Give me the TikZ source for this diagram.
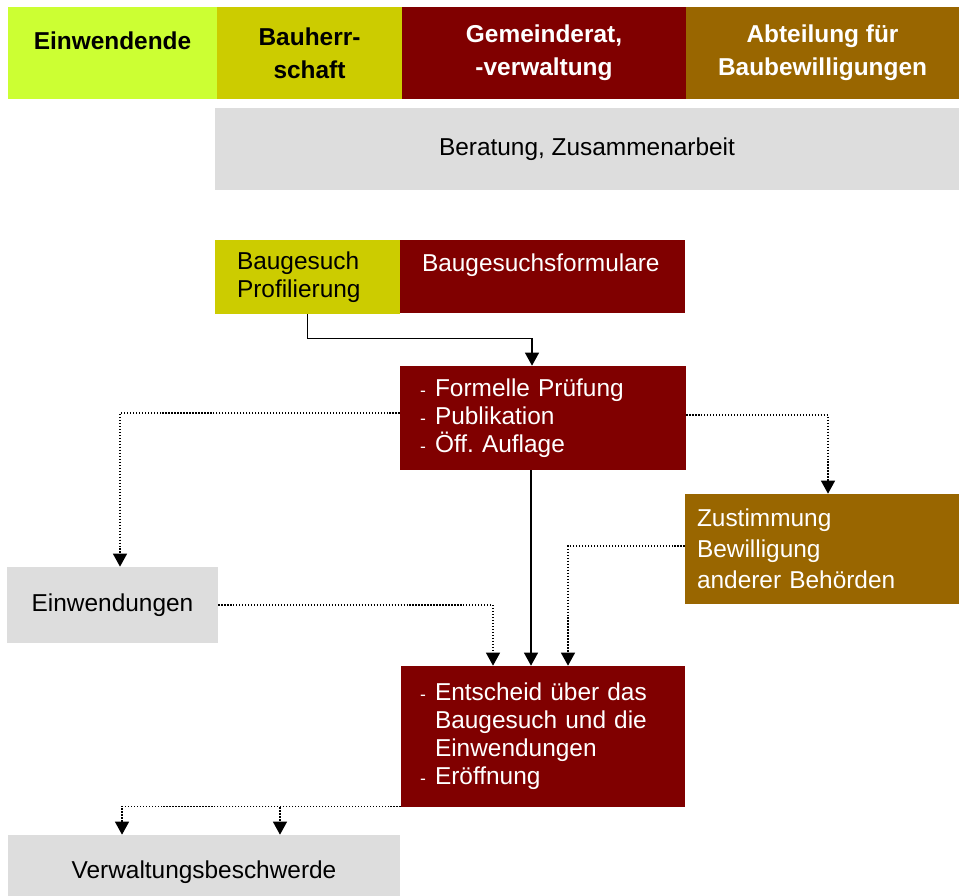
\documentclass[tikz,border=0pt]{standalone}
\usepackage{fontspec}
\setmainfont{Liberation Sans}
\usetikzlibrary{arrows.meta,positioning,calc}

\definecolor{einwgreen}{HTML}{CCFF33}
\definecolor{bauolive}{HTML}{CCCC00}
\definecolor{gemred}{HTML}{800000}
\definecolor{abtbrown}{HTML}{996600}
\definecolor{lightgrey}{HTML}{DDDDDD}

% small dash in front of list lines
\newcommand{\strich}{\makebox[0.3cm][l]{\fontsize{10}{12}\selectfont -}}
\newcommand{\einzug}{\hspace*{0.3cm}}

\begin{document}
\begin{tikzpicture}[
    x=0.02cm, y=-0.02cm,
    every node/.style={font=\fontsize{13.9}{15.9}\selectfont},
    head/.style={rectangle, minimum height=1.84cm, align=center,
                 font=\fontsize{13.9}{18.7}\selectfont\bfseries},
    box/.style={rectangle, align=left, inner ysep=0pt},
    arrow/.style={-{Triangle[width=0.28cm,length=0.26cm]}, line width=0.7pt},
    dotarrow/.style={arrow, densely dotted}
]
\clip (0,0) rectangle (959,895);

% Header
\node[head, fill=einwgreen, minimum width=4.18cm, text depth=0.5cm] (h1)
    at (112.5,53) {Einwendende};
\node[head, fill=bauolive, minimum width=3.7cm] (h2) at (309.5,53)
    {Bauherr-\\schaft};
\node[head, fill=gemred, text=white, minimum width=5.68cm] (h3) at (544,53)
    {Gemeinderat,\\-verwaltung};
\node[head, fill=abtbrown, text=white, minimum width=5.46cm] (h4) at (822.5,53)
    {Abteilung für\\Baubewilligungen};

% Beratung
\node[box, fill=lightgrey, align=center, minimum width=14.88cm,
      minimum height=1.64cm] (ber) at (587,149)
    {Beratung, Zusammenarbeit};

% Baugesuch
\node[box, fill=bauolive, minimum width=3.7cm, minimum height=1.48cm,
      inner xsep=0.44cm, text width=2.82cm] (gesuch) at (307.5,277)
    {Baugesuch\\Profilierung};
\node[box, fill=gemred, text=white, minimum width=5.7cm, minimum height=1.46cm,
      inner xsep=0.44cm, text width=4.82cm] (form) at (542.5,276.5)
    {Baugesuchsformulare\\\mbox{}};

% Formelle Pruefung
\node[box, fill=gemred, text=white, minimum width=5.72cm, minimum height=2.08cm,
      inner xsep=0.4cm, text width=4.92cm] (pruef) at (543,418)
    {\strich Formelle Prüfung\\\strich Publikation\\\strich Öff.\ Auflage};

% Einwendungen / Zustimmung
\node[box, fill=lightgrey, align=center, minimum width=4.22cm,
      minimum height=1.52cm] (einw) at (112.5,605)
    {Einwendungen};
\node[box, fill=abtbrown, text=white, minimum width=5.48cm, minimum height=2.2cm,
      inner xsep=0.24cm, text width=5cm,
      font=\fontsize{13.9}{17.6}\selectfont] (zust) at (822,549)
    {Zustimmung\\Bewilligung\\anderer Behörden};

% Entscheid
\node[box, fill=gemred, text=white, minimum width=5.68cm, minimum height=2.82cm,
      inner xsep=0.38cm, text width=4.92cm] (entsch) at (543,736.5)
    {\strich Entscheid über das\\\einzug Baugesuch und die\\\einzug Einwendungen\\\strich Eröffnung};

% Beschwerde
\node[box, fill=lightgrey, align=center, minimum width=7.84cm,
      minimum height=1.48cm] (verw) at (204,872)
    {Verwaltungsbeschwerde};

% Connectors
\draw[arrow] (gesuch.south) -- ++(0,24) -| ([xshift=-0.22cm]pruef.north);
\draw[arrow] ([xshift=-0.24cm]pruef.south) -- ([xshift=-0.24cm]entsch.north);
\draw[dotarrow] ([yshift=0.1cm]pruef.west) -| ([xshift=0.15cm]einw.north);
\draw[dotarrow] ([yshift=0.06cm]pruef.east) -| ([xshift=0.12cm]zust.north);
\draw[dotarrow] (einw.east) -| ([xshift=-1cm]entsch.north);
\draw[dotarrow] ([yshift=0.06cm]zust.west) -| ([xshift=0.5cm]entsch.north);

\coordinate (vl) at ([xshift=-1.64cm]verw.north);
\coordinate (vr) at ([xshift=1.52cm]verw.north);
\draw[dotarrow] ([yshift=0.02cm]entsch.south west) -| (vl);
\draw[dotarrow] (vr |- entsch.south west) -- (vr);

\end{tikzpicture}
\end{document}
